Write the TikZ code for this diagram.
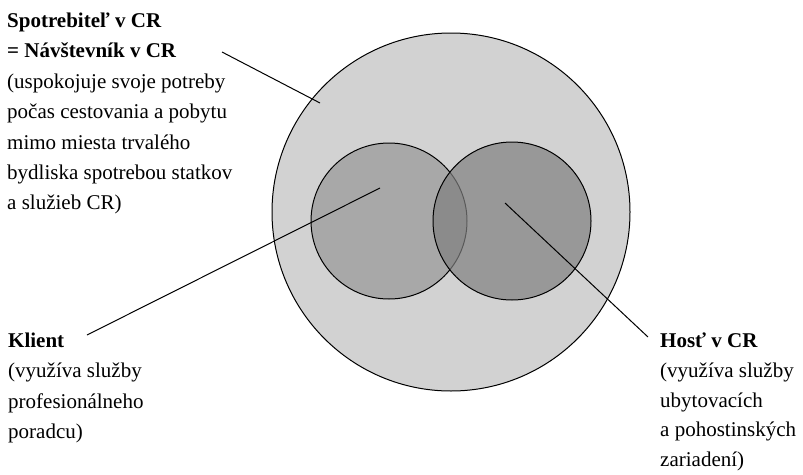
\documentclass[tikz,border=0pt]{standalone}
\usepackage{fontspec}
\setmainfont{Liberation Serif}
\begin{document}
\begin{tikzpicture}[x=1pt, y=-1pt,
    popis/.style={align=left, inner sep=0pt, anchor=north west, font=\fontsize{21}{30.4}\selectfont},
    kruh/.style={draw=black, line width=1pt},
    ciara/.style={draw=black, line width=1pt}]
            \useasboundingbox (0,0) rectangle (803,474);

            % Velky kruh (spotrebitel v CR)
            \filldraw[kruh, fill=gray!35] (451,212) circle (179);

            % Maly kruh vlavo (klient)
            \filldraw[kruh, fill=gray!68] (389,221) circle (78);

            % Maly kruh vpravo (host), priehladny
            \fill[gray, fill opacity=0.7] (512,221) circle (79);
            \draw[kruh] (512,221) circle (79);

            % Body vnutri kruhov
            \coordinate (navstbod) at (320,103);
            \coordinate (klientbod) at (380,188);
            \coordinate (hostbod) at (505,203);

            % Texty
            \node[popis] (navst) at (7,12.7) {\textbf{Spotrebiteľ v CR}\\\textbf{= Návštevník v CR}\\(uspokojuje svoje potreby\\počas cestovania a pobytu\\mimo miesta trvalého\\bydliska spotrebou statkov\\a služieb CR)};
            \node[popis] (klient) at (8,332.7) {\textbf{Klient}\\(využíva služby\\profesionálneho\\poradcu)};
            \node[popis, font=\fontsize{21}{29.8}\selectfont] (host) at (660,332.7) {\textbf{Hosť v CR}\\(využíva služby\\ubytovacích\\a pohostinských\\zariadení)};

            % Ciary k textom
            \coordinate (navstzac) at (222,52);
            \coordinate (klientzac) at (87,335);
            \coordinate (hostzac) at (648,337);
            \draw[ciara] (navstzac) -- (navstbod);
            \draw[ciara] (klientzac) -- (klientbod);
            \draw[ciara] (hostzac) -- (hostbod);
        \end{tikzpicture}
\end{document}
